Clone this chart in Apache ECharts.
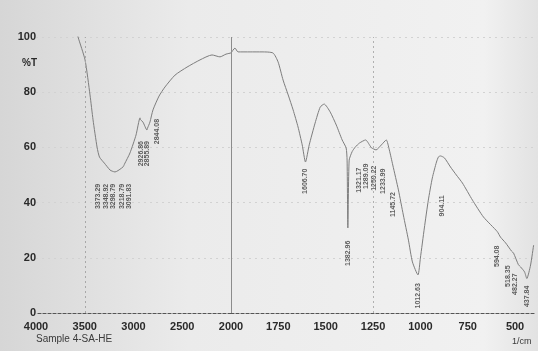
<!DOCTYPE html>
<html>
<head>
<meta charset="utf-8">
<script src="https://cdn.jsdelivr.net/npm/echarts@6/dist/echarts.min.js"></script>
<style>
  html, body { margin: 0; padding: 0; background: #e6e6e6; }
  #chart { width: 538px; height: 351px; }
</style>
</head>
<body>
<div id="chart"></div>
<script>
// IR transmission spectrum, Sample 4-SA-HE (%T vs wavenumber, 1/cm)
const wavenumbers = [
  3575, 3569, 3497, 3446, 3415, 3373.29, 3348.92, 3298.79, 3241, 3218.79, 3190, 3108, 3091.83, 3036,
  2974, 2933, 2926.86, 2903, 2862, 2855.89, 2844.08, 2831, 2800, 2738, 2677, 2574, 2451, 2318,
  2195, 2113, 2051, 2000,
  1979, 1963, 1899, 1836, 1778, 1751, 1725, 1698, 1672, 1646, 1624, 1606.70, 1587, 1556,
  1529, 1508, 1476, 1444, 1413, 1392, 1387, 1382.96, 1376, 1360, 1344, 1321.17, 1289.09, 1265,
  1259.22, 1233.99, 1206, 1180, 1164, 1145.72, 1116, 1090, 1063, 1042, 1012.63, 1000, 979, 958,
  937, 915, 904.11, 894, 873, 841, 810, 778, 725, 667, 594.08, 577, 550, 518.35, 508, 482.27,
  471, 450, 437.84, 418, 402
];
const transmittance = [
  101, 100, 91.7, 79, 70, 60, 56.5, 54.3, 51.8, 51.4, 51.1, 52.9, 54.0, 58,
  64.5, 70.7, 70.0, 69.2, 66.3, 67.0, 68.0, 69.2, 73.6, 78.6, 81.9, 86.2, 89.1, 91.7,
  93.5, 92.8, 93.8, 94.2,
  96, 94.6, 94.6, 94.6, 94.2, 90.9, 84.4, 79, 73.6, 67.4, 60.9, 54.7, 60.9, 68.8,
  74.6, 75.7, 72.8, 68.1, 62.7, 59.8, 55.4, 30.8, 55.4, 58.5, 60.1, 61.6, 62.7, 60.5,
  59.9, 59.1, 60.9, 62.7, 59.1, 53.6, 44.6, 35.5, 26.4, 18.5, 13.8, 19.9, 30.8, 40.9,
  48.9, 54.7, 56.6, 56.9, 56.2, 52.9, 50, 47.1, 40.9, 34.8, 29.5, 27.5, 25.4, 22.4, 21.7, 17.5,
  16.7, 14.9, 12.5, 17.4, 24.6
];

// Peak picks: wavenumber text and the %T level where each label starts
const peakWn = [3373.29, 3348.92, 3298.79, 3218.79, 3091.83, 2926.86, 2855.89, 2844.08,
  1606.70, 1382.96, 1321.17, 1289.09, 1259.22, 1233.99, 1145.72, 1012.63, 904.11,
  594.08, 518.35, 482.27, 437.84];
const peakLabelT = [47, 47, 47, 47, 47, 62.5, 62.5, 70.5,
  52.5, 26.4, 52.9, 54.3, 53.6, 52.5, 44, 11, 42.8,
  24.6, 17.4, 14.5, 10.1];

const xTicksHigh = [4000, 3500, 3000, 2500, 2000];
const xTicksLow = [1750, 1500, 1250, 1000, 750, 500];
const yTicks = [0, 20, 40, 60, 80, 100];
const dottedGuides = [3500, 1250];
const solidGuides = [2000];

// sideways nudges (px) so that crowded labels sit side by side
const labelNudge = { '3373.29': 1, '3348.92': 7, '3298.79': 9, '3218.79': 10, '3091.83': 5,
  '2844.08': 8, '1259.22': 3, '1233.99': 7, '904.11': 4, '518.35': -4, '482.27': -3 };

const BREAK = 2000;
const high = [], low = [];
wavenumbers.forEach((w, i) => {
  if (w >= BREAK) high.push([w, transmittance[i]]);
  if (w <= BREAK) low.push([w, transmittance[i]]);
});
const peakHigh = [], peakLow = [];
peakWn.forEach((w, i) => {
  const item = { value: [w, peakLabelT[i]], name: w.toFixed(2) };
  (w >= BREAK ? peakHigh : peakLow).push(item);
});
// labels are turned 90°, so their local y runs left-to-right on screen
const nudgeLayout = list => p => ({ dy: labelNudge[list[p.dataIndex].name] || 0, hideOverlap: false });

const labelFont = { color: '#2a2a2a', fontSize: 11, fontFamily: 'Liberation Sans', fontWeight: 'bold', formatter: v => String(v) };
const lineStyle = { color: '#7d7d7d', width: 1 };
const peakLabel = {
  show: true, position: 'bottom', distance: 0, rotate: 90, align: 'right', verticalAlign: 'middle',
  formatter: p => p.name, color: '#3a3a3a', fontSize: 7, fontFamily: 'Liberation Sans', fontWeight: 'bold'
};
const guideLines = (arr, type, color) => arr.map(v => ({ xAxis: v, lineStyle: { type, color, width: 1 } }));

const chart = echarts.init(document.getElementById('chart'));
chart.setOption({
  animation: false,
  backgroundColor: {
    type: 'linear', x: 0, y: 0, x2: 1, y2: 0,
    colorStops: [
      { offset: 0, color: '#d6d6d6' },
      { offset: 0.35, color: '#ebebeb' },
      { offset: 0.9, color: '#f1f1f1' },
      { offset: 1, color: '#e2e2e2' }
    ]
  },
  grid: [
    { left: 36, width: 195, top: 37, bottom: 38 },
    { left: 231, right: 4, top: 37, bottom: 38 }
  ],
  xAxis: [
    {
      gridIndex: 0, type: 'value', inverse: true, min: 2000, max: 4000, interval: 500,
      axisLine: { show: true, lineStyle: { color: '#555', type: [3, 2], width: 1.2 } },
      axisTick: { show: false }, splitLine: { show: false },
      axisLabel: Object.assign({ margin: 8, customValues: xTicksHigh, showMinLabel: true, showMaxLabel: true }, labelFont)
    },
    {
      gridIndex: 1, type: 'value', inverse: true, min: 400, max: 2000,
      axisLine: { show: true, lineStyle: { color: '#555', type: [3, 2], width: 1.2 } },
      axisTick: { show: false }, splitLine: { show: false },
      axisLabel: Object.assign({ margin: 8, customValues: xTicksLow }, labelFont)
    }
  ],
  yAxis: [
    {
      gridIndex: 0, type: 'value', min: 0, max: 100, interval: 20,
      axisLine: { show: false }, axisTick: { show: false },
      splitLine: { show: true, lineStyle: { color: '#d2d2d2', type: [2, 4] } },
      axisLabel: Object.assign({ margin: 0, customValues: yTicks }, labelFont)
    },
    {
      gridIndex: 1, type: 'value', min: 0, max: 100, interval: 20,
      axisLine: { show: false }, axisTick: { show: false }, axisLabel: { show: false },
      splitLine: { show: true, lineStyle: { color: '#d2d2d2', type: [2, 4] } }
    }
  ],
  series: [
    {
      type: 'line', xAxisIndex: 0, yAxisIndex: 0, data: high, showSymbol: false,
      lineStyle, smooth: 0.2,
      markLine: {
        silent: true, symbol: 'none', label: { show: false },
        data: guideLines(dottedGuides.filter(v => v > BREAK), [2, 3], '#a8a8a8')
      }
    },
    {
      type: 'line', xAxisIndex: 1, yAxisIndex: 1, data: low, showSymbol: false,
      lineStyle, smooth: 0.2,
      markLine: {
        silent: true, symbol: 'none', label: { show: false },
        data: guideLines(dottedGuides.filter(v => v < BREAK), [2, 3], '#b0b0b0')
          .concat(guideLines(solidGuides, 'solid', '#8c8c8c'))
      }
    },
    {
      type: 'scatter', xAxisIndex: 0, yAxisIndex: 0, data: peakHigh,
      symbolSize: 1, itemStyle: { color: 'rgba(0,0,0,0)' }, label: peakLabel, labelLayout: nudgeLayout(peakHigh)
    },
    {
      type: 'scatter', xAxisIndex: 1, yAxisIndex: 1, data: peakLow,
      symbolSize: 1, itemStyle: { color: 'rgba(0,0,0,0)' }, label: peakLabel, labelLayout: nudgeLayout(peakLow)
    }
  ],
  graphic: [
    { type: 'text', left: 22, top: 58, style: { text: '%T', fill: '#2a2a2a', font: 'bold 10px "Liberation Sans"' } },
    { type: 'text', left: 36, top: 334, style: { text: 'Sample 4-SA-HE', fill: '#3a3a3a', font: '10px "Liberation Sans"' } },
    { type: 'text', left: 512, top: 337, style: { text: '1/cm', fill: '#3a3a3a', font: '9px "Liberation Sans"' } }
  ]
});
</script>
</body>
</html>
